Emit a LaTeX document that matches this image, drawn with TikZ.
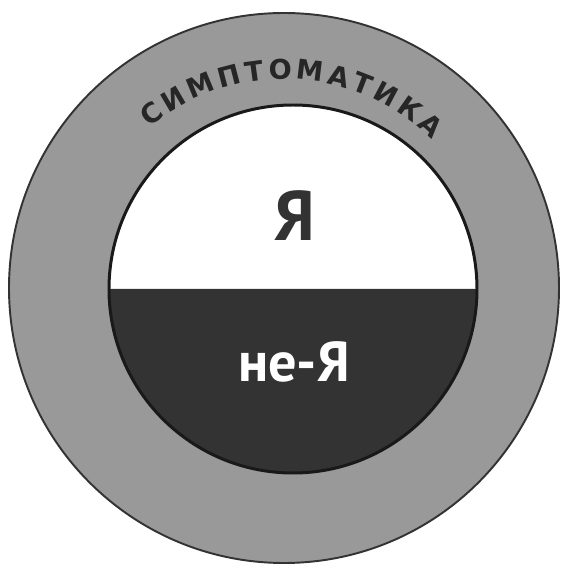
\documentclass[tikz,border=0pt]{standalone}
\usepackage{fontspec}
\setmainfont{PT Sans}
\newfontfamily\arcfont{DejaVu Sans}
\usepackage{tikz}
\usetikzlibrary{decorations.text}

\begin{document}
\begin{tikzpicture}[x=0.02cm, y=0.02cm]
\tikzset{
  ring/.style={draw=black!80,line width=1.1pt,fill=black!40},
  nonselfhalf/.style={fill=black!80},
  rim/.style={draw=black!90,line width=1.7pt},
  selflab/.style={font=\bfseries\fontsize{40}{40}\selectfont,text=black!80,inner sep=0pt},
  nonselflab/.style={font=\bfseries\fontsize{32}{32}\selectfont,text=white,inner sep=0pt}
}
\useasboundingbox (0,0) rectangle (565,569);
\coordinate (oc) at (284,281);
\coordinate (ic) at (293,280);
% ---- outer ring
\draw[ring] (oc) circle[radius=275];
\fill[white] (ic) circle[radius=184];
\fill[nonselfhalf] (ic) ++(-184,0) arc[start angle=180, end angle=360, radius=184] -- cycle;
\draw[rim] (ic) circle[radius=184];
% ---- text along the ring
\path[decorate, decoration={text along path, text align={fit to path},
  text={|\arcfont\bfseries\fontsize{15.5}{15.5}\selectfont\color{black!85}|СИМПТОМАТИКА}}]
  (oc) ++(130:209) arc[start angle=130, end angle=45, radius=209];
% ---- labels
\node[selflab] (self) at (295,353) {Я};
\node[nonselflab] (nonself) at (294,207) {не-Я};
\end{tikzpicture}
\end{document}
